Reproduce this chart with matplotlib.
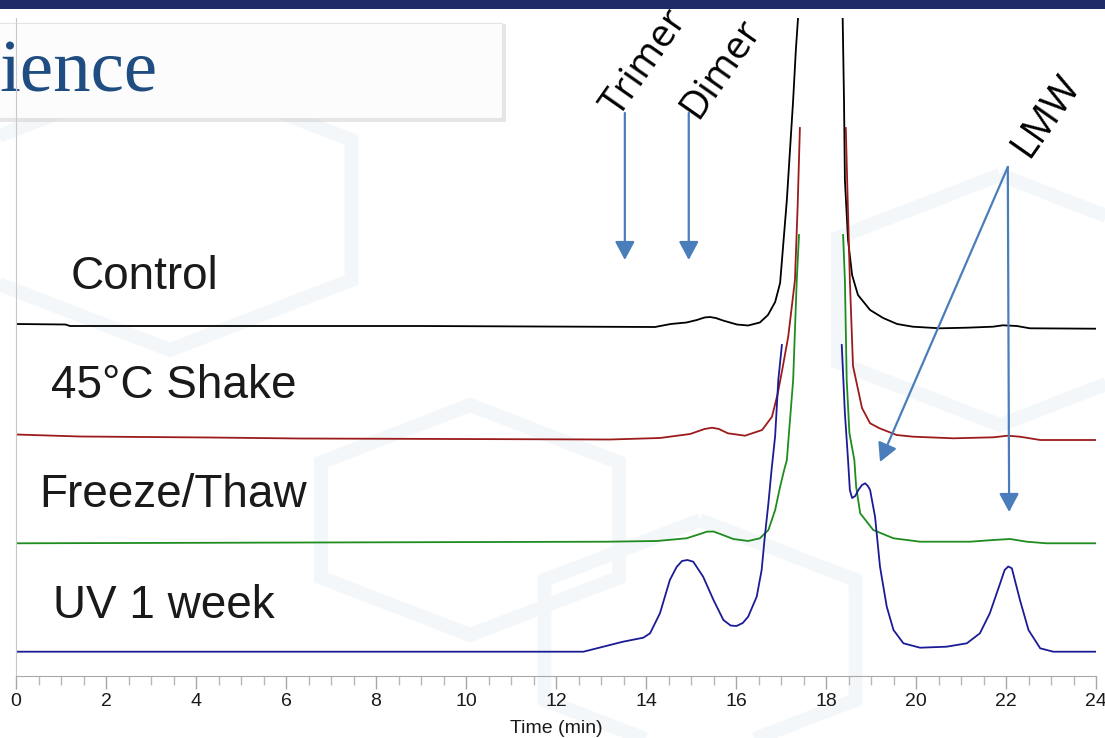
import numpy as np
import matplotlib
matplotlib.use("Agg")
import matplotlib.pyplot as plt
from matplotlib.patches import Rectangle, RegularPolygon

plt.rcParams['font.family'] = ['Liberation Sans', 'DejaVu Sans']

nan = np.nan

# SEC traces: retention time (min) and stacked detector signal (offset units)
control_t = [0.0, 1.10, 1.20, 9.00, 14.20, 14.55, 14.90, 15.13, 15.30, 15.42, 15.55, 15.71, 16.02, 16.27,
             16.53, 16.71, 16.87, 16.98, 17.04, 17.13, 17.20, 17.27, 17.33, 17.38, 17.42, 17.90, 18.34,
             18.37, 18.40, 18.42, 18.49, 18.58, 18.71, 18.80, 18.98, 19.27, 19.58, 19.93, 20.53, 21.13,
             21.71, 21.93, 22.24, 22.53, 23.98]
control_y = [352, 351.5, 350, 350, 349, 352, 353.5, 356, 358.5, 359, 358, 355.5, 351.5, 350.5,
             353.5, 361, 374, 393, 426, 476, 526, 576, 626, 659, 700, nan, 700,
             659, 576, 496, 436, 401, 381, 376, 366, 358, 352, 349.3, 347.7, 348.3,
             349.3, 350.7, 350, 347.7, 347.3]

shake_t = [0.0, 1.42, 4.31, 6.31, 13.20, 14.31, 14.98, 15.30, 15.47, 15.62, 15.82, 16.20, 16.58, 16.80,
           16.93, 17.04, 17.16, 17.24, 17.31, 17.37, 17.42, 17.90, 18.44, 18.47, 18.50, 18.53, 18.60,
           18.80, 18.98, 19.19, 19.57, 19.94, 20.83, 21.72, 22.04, 22.31, 22.76, 23.98]
shake_y = [241.5, 239.5, 238.5, 237.5, 236.5, 238, 242, 247, 248.3, 247, 242.7, 240.3, 246, 259.3,
           283, 309.3, 339.3, 369.3, 396, 470, 548, nan, 548, 496, 446, 396, 310,
           268, 252.7, 247.7, 241, 239.3, 237.7, 238.7, 240.3, 239.3, 236, 236]

freeze_t = [0.0, 13.13, 14.24, 14.90, 15.20, 15.35, 15.50, 15.65, 15.94, 16.27, 16.53, 16.72, 16.87,
            16.98, 17.07, 17.13, 17.20, 17.27, 17.35, 17.40, 17.90, 18.38, 18.42, 18.46, 18.52, 18.63,
            18.67, 18.76, 19.05, 19.50, 20.09, 21.20, 21.72, 22.09, 22.46, 22.90, 23.98]
freeze_y = [132.7, 134.3, 135, 137.7, 142, 144.3, 144.5, 142, 137, 135, 137.7, 146, 166,
            189.3, 206, 216, 256, 296, 396, 441, nan, 441, 396, 296, 243, 216,
            189.3, 162.7, 146, 137.7, 134.3, 134.3, 136, 137, 134.3, 132.7, 132.7]

uv_t = [0.0, 12.61, 13.05, 13.49, 13.94, 14.09, 14.31, 14.53, 14.68, 14.80, 14.92, 15.05, 15.27, 15.50,
        15.72, 15.88, 16.01, 16.15, 16.27, 16.46, 16.57, 16.64, 16.72, 16.79, 16.87, 16.94, 17.02,
        17.60, 18.35, 18.42, 18.49, 18.53, 18.58, 18.65, 18.72, 18.80, 18.87, 18.93, 18.98, 19.09,
        19.20, 19.35, 19.50, 19.72, 20.09, 20.68, 21.13, 21.42, 21.64, 21.87, 21.97, 22.05, 22.13,
        22.31, 22.50, 22.76, 23.05, 23.98]
uv_y = [24.3, 24.3, 29.3, 34.3, 38.3, 42.7, 62.7, 96, 109, 115, 116, 114.3, 99.3, 76,
        56, 50.5, 50, 53, 59.3, 79.3, 106, 139.3, 172.7, 206, 240, 296, 331,
        nan, 331, 262.7, 216, 186, 178, 180, 186, 191, 192.7, 190, 186, 159.3,
        109.3, 69.3, 46, 32.7, 28.3, 29.3, 32.7, 42.7, 62.7, 92.7, 106, 109.5, 107.7,
        76, 46, 27.7, 24.3, 24.3]

sample_names = ["Control", "45°C Shake", "Freeze/Thaw", "UV 1 week"]
name_pos = [(1.22, 387), (0.78, 278), (0.52, 169), (0.83, 58)]
trace_colors = ['#000000', '#9b1b1b', '#1e8c1e', '#1b1b96']

# species labels and arrows (time, signal)
species = ["Trimer", "Dimer", "LMW"]
arrow_x = [13.53, 14.95]
arrow_top, arrow_tip = 563, 416
lmw_origin = (22.04, 509)
lmw_tips = [(19.2, 214), (22.07, 164)]

fig = plt.figure(figsize=(11.05, 7.38), dpi=100)
W, H = 1105, 738

# very faint slide watermark
for cx, cy, r in [(470, 520, 115), (1000, 300, 125), (170, 210, 140), (700, 640, 120)]:
    fig.add_artist(RegularPolygon((cx / W, 1 - cy / H), 6, radius=r / H, orientation=0,
                                  transform=fig.transFigure, facecolor='none',
                                  edgecolor='#f4f7f9', lw=10, zorder=-10))

# slide decoration: header band and title box
fig.add_artist(Rectangle((0, 1 - 9 / H), 1, 9 / H, transform=fig.transFigure,
                         facecolor='#1f2b66', edgecolor='none', zorder=-5))
fig.add_artist(Rectangle((-0.01, 1 - 122 / H), 517 / W, 98 / H, transform=fig.transFigure,
                         facecolor='#cfcfcf', edgecolor='none', alpha=0.5, zorder=-4))
fig.add_artist(Rectangle((-0.01, 1 - 118 / H), 513 / W, 95 / H, transform=fig.transFigure,
                         facecolor='#fcfcfc', edgecolor='#e4e4e4', lw=0.8, zorder=-3))
fig.text(-1 / W, 1 - 91 / H, "ience", family=['Liberation Serif', 'DejaVu Serif'],
         fontsize=54, color='#1f4d82', ha='left', va='baseline', zorder=-2)

ax = fig.add_axes([16 / W, 1 - 676 / H, 1080 / W, 658 / H])
ax.patch.set_alpha(0)

for t, y, c in zip([control_t, shake_t, freeze_t, uv_t],
                   [control_y, shake_y, freeze_y, uv_y], trace_colors):
    ax.plot(t, y, color=c, lw=1.3)

for name, (x, y) in zip(sample_names, name_pos):
    ax.text(x, y, name, fontsize=33, color='#1a1a1a', ha='left', va='baseline')

arrow_color = '#4a7ebb'
aprops = dict(arrowstyle='-|>,head_length=0.75,head_width=0.4', color=arrow_color,
              lw=1.6, mutation_scale=15, shrinkA=0, shrinkB=0)
for x in arrow_x:
    ax.annotate('', xy=(x, arrow_tip), xytext=(x, arrow_top), arrowprops=aprops)
for tip in lmw_tips:
    ax.annotate('', xy=tip, xytext=lmw_origin, arrowprops=aprops)

label_centers = [(645, 63), (721, 69), (1046, 116)]
for name, (px, py) in zip(species, label_centers):
    fig.text(px / W, 1 - py / H, name, family=['Open Sans', 'DejaVu Sans'], fontsize=28,
             rotation=55, ha='center', va='center', color='#000000')

ax.set_xlim(0, 24)
ax.set_ylim(0, 658)
ax.set_xticks(np.arange(0, 25, 2))
ax.set_xticks(np.arange(0, 24.01, 0.5), minor=True)
ax.set_yticks([])
for s in ['top', 'right']:
    ax.spines[s].set_visible(False)
ax.spines['left'].set_color('#c8c8c8')
ax.spines['bottom'].set_color('#a8a8a8')
ax.tick_params(axis='x', which='major', length=9.5, width=1, color='#a8a8a8',
               labelsize=14, labelcolor='#1a1a1a', pad=3)
ax.tick_params(axis='x', which='minor', length=6.5, width=1, color='#b8b8b8')
ax.set_xlabel('Time (min)', fontsize=14, color='#1a1a1a', labelpad=7)

fig.savefig('out.png', dpi=100)
